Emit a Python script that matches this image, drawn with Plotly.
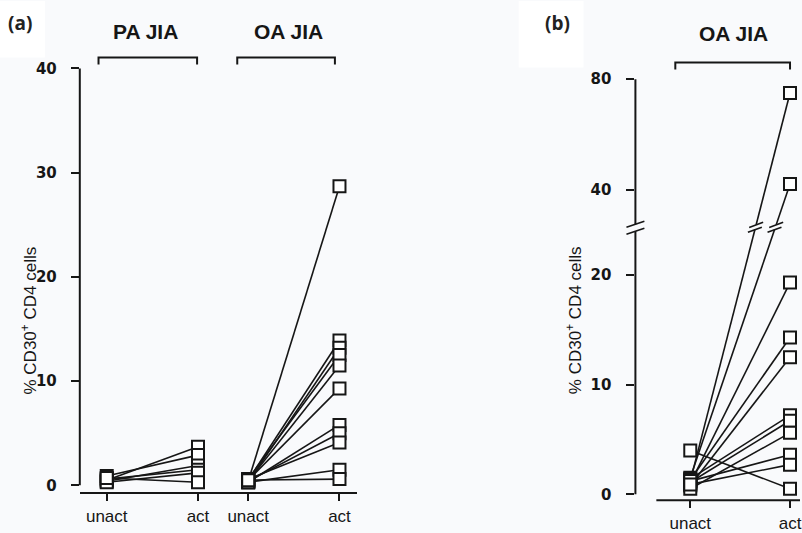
import plotly.graph_objects as go

# ---- data: % CD30+ of CD4 cells, unactivated vs activated ----
pa_unact = [0.5, 0.9, 0.4, 0.6, 0.3, 0.7]
pa_act = [3.7, 2.9, 1.9, 1.5, 1.2, 0.3]

oa_unact = [0.4, 0.5, 0.3, 0.6, 0.4, 0.5, 0.3, 0.4, 0.6, 0.3, 0.5]
oa_act = [28.7, 13.9, 13.2, 12.5, 11.5, 9.3, 5.8, 5.0, 4.1, 1.5, 0.6]

b_unact = [1.2, 1.5, 1.0, 1.3, 0.8, 1.4, 1.1, 0.5, 1.2, 0.9, 4.0]
b_act = [75, 42, 19.3, 14.3, 12.5, 7.2, 6.7, 5.6, 3.6, 2.7, 0.5]

x_labels = ["unact", "act"]
a_ticks = [0, 10, 20, 30, 40]
b_ticks = [0, 10, 20, 40, 80]
group_names_a = ["PA JIA", "OA JIA"]
group_name_b = "OA JIA"
y_title = "% CD30<sup>+</sup> CD4 cells"

# ---- layout geometry (pixels) ----
W, H = 802, 533


def px(x):
    return x / W


def py(y):
    return 1 - y / H


INK = "#161616"
BG = "#f9fafc"
TICKFONT = dict(family="DejaVu Sans, Arial, sans-serif", size=15, color=INK, weight="bold")
XFONT = dict(family="Liberation Sans, Arial, sans-serif", size=17, color=INK)

# panel (a) scales
A_LEFT, A_RIGHT, A_TOP, A_BOT = 80, 358, 60, 495
A_Y0, A_YS = 488, 10.5          # pixel of y=0, pixels per unit
A_X0, A_XS = 107, 91.5          # pixel of x=0, pixels per unit
GAP_A = 1.55                    # x offset of the second group

# panel (b) scales with a broken y axis
B_LEFT, B_TOP, B_BOT = 637, 70, 503
B_Y0, B_YS = 497, 11.05
B_X0, B_XS = 692, 100
UP_40_PX, UP_YS = 190, 2.78     # upper segment: pixel of 40, pixels per unit
T40 = (B_Y0 - UP_40_PX) / B_YS
R_UP = UP_YS / B_YS
BREAK_PX = 228


def tb(v):
    """Map a value onto the broken panel-(b) axis (in lower-segment units)."""
    return v if v < 25 else T40 + (v - 40) * R_UP


t_break = (B_Y0 - BREAK_PX) / B_YS

MARKER = dict(symbol="square", size=12, color="white", line=dict(color=INK, width=2))

fig = go.Figure()

# ---- panel (a) lines and markers ----
lx, ly, mx, my = [], [], [], []
for off, un, ac in [(0, pa_unact, pa_act), (GAP_A, oa_unact, oa_act)]:
    for u, a in zip(un, ac):
        lx += [off, off + 1, None]
        ly += [u, a, None]
        mx += [off, off + 1]
        my += [u, a]

fig.add_trace(go.Scatter(x=lx, y=ly, mode="lines", line=dict(color=INK, width=1.6),
                         xaxis="x", yaxis="y", hoverinfo="skip", showlegend=False))
fig.add_trace(go.Scatter(x=mx, y=my, mode="markers", marker=MARKER,
                         xaxis="x", yaxis="y", showlegend=False))

# ---- panel (b) lines (split at the axis break) ----
dt = 2.5 / B_YS
mw, mh = 7 / B_XS, 2.6 / B_YS
bx, by, bmx, bmy = [], [], [], []
for u, a in zip(b_unact, b_act):
    tu, ta = tb(u), tb(a)
    if a >= 25:
        def xat(t):
            return (t - tu) / (ta - tu)
        lo, hi = t_break - dt, t_break + dt
        bx += [0, xat(lo), None, xat(hi), 1, None]
        by += [tu, lo, None, hi, ta, None]
        for t in (lo, hi):
            xc = xat(t)
            bx += [xc - mw, xc + mw, None]
            by += [t - mh, t + mh, None]
    else:
        bx += [0, 1, None]
        by += [tu, ta, None]
    bmx += [0, 1]
    bmy += [tu, ta]

fig.add_trace(go.Scatter(x=bx, y=by, mode="lines", line=dict(color=INK, width=1.6),
                         xaxis="x2", yaxis="y2", hoverinfo="skip", showlegend=False))
fig.add_trace(go.Scatter(x=bmx, y=bmy, mode="markers", marker=MARKER,
                         xaxis="x2", yaxis="y2", showlegend=False,
                         customdata=b_unact + b_act))

# ---- axes ----
fig.update_layout(
    width=W, height=H, margin=dict(l=0, r=0, t=0, b=0),
    paper_bgcolor=BG, plot_bgcolor="rgba(0,0,0,0)",
    xaxis=dict(domain=[px(A_LEFT), px(A_RIGHT)],
               range=[(A_LEFT - A_X0) / A_XS, (A_RIGHT - A_X0) / A_XS],
               tickvals=[0, 1, GAP_A, GAP_A + 1], ticktext=x_labels * 2,
               showline=True, linecolor=INK, linewidth=2,
               ticks="outside", ticklen=7, tickwidth=1.5, tickcolor=INK,
               showgrid=False, zeroline=False, tickfont=XFONT, anchor="y"),
    yaxis=dict(domain=[py(A_BOT), py(A_TOP)],
               range=[-(A_BOT - A_Y0) / A_YS, (A_Y0 - A_TOP) / A_YS],
               tickvals=a_ticks, ticks="outside", ticklen=8, tickwidth=1.5,
               tickcolor=INK, showline=False, showgrid=False, zeroline=False,
               tickfont=TICKFONT, ticklabelstandoff=11, anchor="x"),
    xaxis2=dict(domain=[px(B_LEFT), 1],
                range=[(B_LEFT - B_X0) / B_XS, (W - B_X0) / B_XS],
                tickvals=[0, 1], ticktext=x_labels, showline=False,
                ticks="outside", ticklen=7, tickwidth=1.5, tickcolor=INK,
                ticklabeloverflow="allow",
                showgrid=False, zeroline=False, tickfont=XFONT, anchor="y2"),
    yaxis2=dict(domain=[py(B_BOT), py(B_TOP)],
                range=[-(B_BOT - B_Y0) / B_YS, (B_Y0 - B_TOP) / B_YS],
                tickvals=[tb(v) for v in b_ticks], ticktext=[str(v) for v in b_ticks],
                ticks="outside", ticklen=8, tickwidth=1.5, tickcolor=INK,
                showline=False, showgrid=False, zeroline=False,
                tickfont=TICKFONT, ticklabelstandoff=12, anchor="x2"),
)

shapes = []
# white label boxes behind the panel letters
shapes.append(dict(type="rect", xref="paper", yref="paper", x0=0, x1=px(45),
                   y0=py(57), y1=1, fillcolor="white", line_width=0, layer="below"))
shapes.append(dict(type="rect", xref="paper", yref="paper", x0=px(520), x1=px(585),
                   y0=py(67), y1=1, fillcolor="white", line_width=0, layer="below"))

line_style = dict(color=INK, width=2)
# y axis lines
shapes.append(dict(type="line", xref="paper", yref="y", x0=px(A_LEFT), x1=px(A_LEFT),
                   y0=0, y1=40, line=line_style))
shapes.append(dict(type="line", xref="paper", yref="y2", x0=px(B_LEFT), x1=px(B_LEFT),
                   y0=0, y1=(B_Y0 - 232) / B_YS, line=line_style))
shapes.append(dict(type="line", xref="paper", yref="y2", x0=px(B_LEFT), x1=px(B_LEFT),
                   y0=(B_Y0 - 225) / B_YS, y1=tb(80), line=line_style))
# y axis break marks
for yb in (232, 225):
    shapes.append(dict(type="line", xref="paper", yref="paper",
                       x0=px(B_LEFT - 9), y0=py(yb + 3), x1=px(B_LEFT + 9), y1=py(yb - 3),
                       line=dict(color=INK, width=1.6)))
# panel (b) baseline
shapes.append(dict(type="line", xref="paper", yref="paper", x0=px(658), x1=1,
                   y0=py(B_BOT), y1=py(B_BOT), line=line_style))


# group brackets
def bracket(xref, x0, x1, ytop, drop=7):
    return dict(type="path", xref=xref, yref="paper",
                path=f"M {x0},{py(ytop + drop)} L {x0},{py(ytop)} L {x1},{py(ytop)} L {x1},{py(ytop + drop)}",
                line=dict(color=INK, width=2))


shapes.append(bracket("x", -0.09, 0.99, 57))
shapes.append(bracket("x", GAP_A - 0.12, GAP_A + 0.95, 57))
shapes.append(bracket("x2", -0.15, 1.0, 62))
fig.update_layout(shapes=shapes)

# ---- text ----
HEAD = dict(family="Liberation Sans, Arial, sans-serif", size=21, color=INK, weight="bold")
LETTER = dict(family="Open Sans, Noto Sans, sans-serif", size=19, color="#222222", weight="bold")
TITLE = dict(family="Liberation Sans, Arial, sans-serif", size=17, color=INK)

ann = [
    dict(text="(a)", x=px(20), y=py(22), font=LETTER),
    dict(text="(b)", x=px(559), y=py(22), font=LETTER),
    dict(text=group_names_a[0], x=px(146), y=py(31), font=HEAD),
    dict(text=group_names_a[1], x=px(289), y=py(31), font=HEAD),
    dict(text=group_name_b, x=px(735), y=py(33), font=HEAD),
    dict(text=y_title, x=px(29), y=py(322), font=TITLE, textangle=-90),
    dict(text=y_title, x=px(575), y=py(322), font=TITLE, textangle=-90),
]
for a in ann:
    a.update(xref="paper", yref="paper", showarrow=False, xanchor="center", yanchor="middle")
fig.update_layout(annotations=ann)

fig.write_html("out.html")
